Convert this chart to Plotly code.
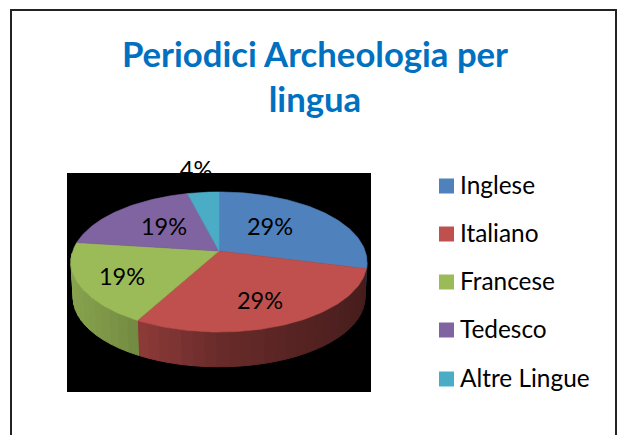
import numpy as np
import plotly.graph_objects as go

# ---- data ----
categories = ["Inglese", "Italiano", "Francese", "Tedesco", "Altre Lingue"]
values = [29, 29, 19, 19, 4]
colors = ["#4f81bd", "#c0504d", "#9bbb59", "#8064a2", "#4bacc6"]
title_text = "Periodici Archeologia per<br>lingua"

# ---- geometry of the tilted pie (screen pixels) ----
W, H = 617, 435
CX, CY = 219, 251
AX, AY, K = 146.2, 68.3, 0.157
BOTTOM_SCALE, DEPTH = 0.985, 36
WALL_FROM, WALL_TO = 99, 268
label_pos = [(270, 229), (260, 303), (122, 279), (164, 229), (196, 172.5)]
legend_x, legend_text_x = 446.5, 460
legend_y = [186, 234, 282, 330, 379]
legend_text_y = [188, 236, 284, 332, 381]
FONT = "Lato"
LABEL_SIZE = 23.5
LEGEND_SIZE = 24.4


def proj(theta_deg, r=1.0, s=1.0, dy=0.0):
    t = np.radians(theta_deg)
    X, Y = r * np.sin(t), r * np.cos(t)
    d = 1 + K * Y
    return CX + s * AX * X / d, CY - s * AY * Y / d + dy


def shade(color, x):
    f = np.interp(x, [71, 139, 219, 367], [0.88, 0.74, 0.55, 0.37])
    rgb = [int(color[i:i + 2], 16) for i in (1, 3, 5)]
    return "rgb(%d,%d,%d)" % tuple(int(c * f) for c in rgb)


def poly(xs, ys, color, lw=0.6):
    return go.Scatter(x=xs, y=ys, mode="lines", fill="toself", fillcolor=color,
                      line=dict(color=color, width=lw), showlegend=False,
                      hoverinfo="skip")


fig = go.Figure()

# the 4% label sits behind the black panel, as in the original
total = sum(values)
pct = ["%d%%" % round(v * 100 / total) for v in values]
fig.add_trace(go.Scatter(x=[label_pos[4][0]], y=[label_pos[4][1]], mode="text",
                         text=[pct[4]], textfont=dict(family=FONT, size=LABEL_SIZE, color="#000"),
                         showlegend=False, hoverinfo="skip"))

# black panel behind the pie
fig.add_trace(poly([67, 371, 371, 67, 67], [173, 173, 392, 392, 173], "#000000", 0))

edges = np.cumsum([0] + values) * 360 / total

# side wall, as narrow shaded strips
for i in range(len(values)):
    a, b = max(edges[i], WALL_FROM), min(edges[i + 1], WALL_TO)
    if b <= a:
        continue
    n = max(2, int((b - a) / 4))
    th = np.linspace(a, b, n + 1)
    for t0, t1 in zip(th[:-1], th[1:]):
        tt = np.linspace(t0, t1, 4)
        x1, y1 = proj(tt)
        x2, y2 = proj(tt[::-1], s=BOTTOM_SCALE, dy=DEPTH)
        xs = np.r_[x1, x2, x1[0]]
        ys = np.r_[y1, y2, y1[0]]
        fig.add_trace(poly(xs, ys, shade(colors[i], xs.mean()), 1))

# top face
for i in range(len(values)):
    tt = np.linspace(edges[i], edges[i + 1], 80)
    x1, y1 = proj(tt)
    fig.add_trace(poly(np.r_[CX, x1, CX], np.r_[CY, y1, CY], colors[i]))

# slice labels
fig.add_trace(go.Scatter(x=[p[0] for p in label_pos[:4]], y=[p[1] for p in label_pos[:4]],
                         mode="text", text=pct[:4],
                         textfont=dict(family=FONT, size=LABEL_SIZE, color="#000"),
                         showlegend=False, hoverinfo="skip"))

# legend
fig.add_trace(go.Scatter(x=[legend_x] * 5, y=legend_y, mode="markers",
                         marker=dict(symbol="square", size=15, color=colors, line=dict(width=0)),
                         showlegend=False, hoverinfo="skip"))
fig.add_trace(go.Scatter(x=[legend_text_x] * 5, y=legend_text_y, mode="text", text=categories,
                         textposition="middle right",
                         textfont=dict(family=FONT, size=LEGEND_SIZE, color="#000"),
                         showlegend=False, hoverinfo="skip"))

fig.update_layout(
    width=W, height=H, margin=dict(l=0, r=0, t=0, b=0),
    paper_bgcolor="#ffffff", plot_bgcolor="#ffffff", showlegend=False,
    title=dict(text=title_text, x=315 / W, xanchor="center", y=1 - 67 / H, yanchor="middle",
               font=dict(family=FONT, size=34.7, color="#0070c0", weight="bold")),
    xaxis=dict(range=[0, W], visible=False, fixedrange=True),
    yaxis=dict(range=[H, 0], visible=False, fixedrange=True),
    shapes=[dict(type="rect", xref="x", yref="y", x0=11, x1=616, y0=10, y1=445,
                 line=dict(color="#222222", width=2), layer="above")],
)
fig.write_html("out.html", config=dict(displayModeBar=False),
               post_script="document.body.style.margin='0';document.body.style.overflow='hidden';")
